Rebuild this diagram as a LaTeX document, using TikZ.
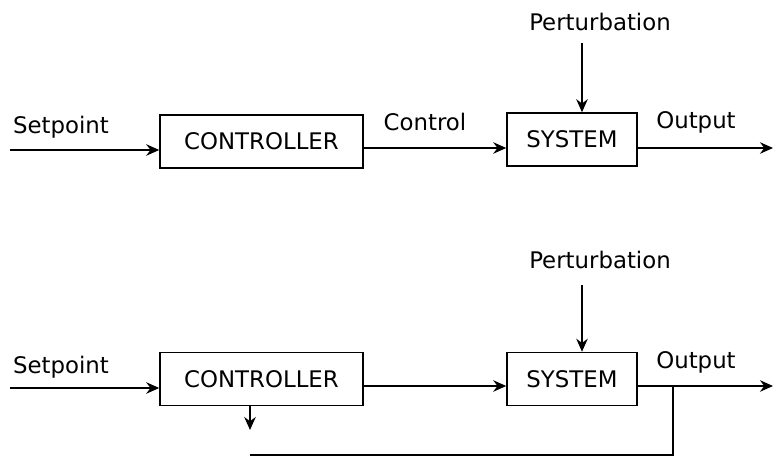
\documentclass[tikz,border=0pt]{standalone}
\usepackage{fontspec}
\setmainfont{DejaVu Sans}
\usetikzlibrary{arrows.meta}

\begin{document}
\begin{tikzpicture}[x=0.02cm,y=-0.02cm,>={Stealth[length=2.6mm,width=2.3mm]},
  block/.style={draw,line width=0.9pt,inner sep=0pt,minimum height=1.06cm,font=\fontsize{13}{15}\selectfont},
  lbl/.style={inner sep=0pt,font=\fontsize{13}{15}\selectfont},
  wire/.style={line width=0.9pt}]
  \useasboundingbox (0,0) rectangle (774,456);
  % top loop
  \node[lbl] (sp1) at (61,127) {Setpoint};
  \node[block,minimum width=4.06cm] (ctrl1) at (261.5,141.5) {CONTROLLER};
  \node[block,minimum width=2.6cm] (sys1) at (572,139.5) {SYSTEM};
  \node[lbl] (ctl1) at (425,122) {Control};
  \node[lbl] (pert1) at (600,22) {Perturbation};
  \node[lbl] (out1) at (696,122) {Output};
  \coordinate (in1) at (10,150);
  \coordinate (end1) at (773,148);
  \coordinate (ptop1) at (582,43);
  \draw[wire,->] (in1) -- (in1 -| ctrl1.west);
  \draw[wire,->] (ctrl1.east |- 0,148) -- (sys1.west |- 0,148);
  \draw[wire,->] (ptop1) -- (ptop1 |- sys1.north);
  \draw[wire,->] (sys1.east |- end1) -- (end1);
  % bottom loop
  \node[lbl] (sp2) at (61,367) {Setpoint};
  \node[block,minimum width=4.06cm] (ctrl2) at (261.5,379) {CONTROLLER};
  \node[block,minimum width=2.6cm] (sys2) at (572,379) {SYSTEM};
  \node[lbl] (pert2) at (600,260) {Perturbation};
  \node[lbl] (out2) at (696,362) {Output};
  \coordinate (in2) at (10,388);
  \coordinate (end2) at (773,386);
  \coordinate (ptop2) at (582,285);
  \coordinate (br) at (673,386);
  \coordinate (fbend) at (250,455);
  \coordinate (fbtip) at (250,430);
  \draw[wire,->] (in2) -- (in2 -| ctrl2.west);
  \draw[wire,->] (ctrl2.east |- br) -- (sys2.west |- br);
  \draw[wire,->] (ptop2) -- (ptop2 |- sys2.north);
  \draw[wire,->] (sys2.east |- end2) -- (end2);
  \draw[wire] (br) |- (fbend);
  \draw[wire,->] (ctrl2.south -| fbtip) -- (fbtip);
\end{tikzpicture}
\end{document}
